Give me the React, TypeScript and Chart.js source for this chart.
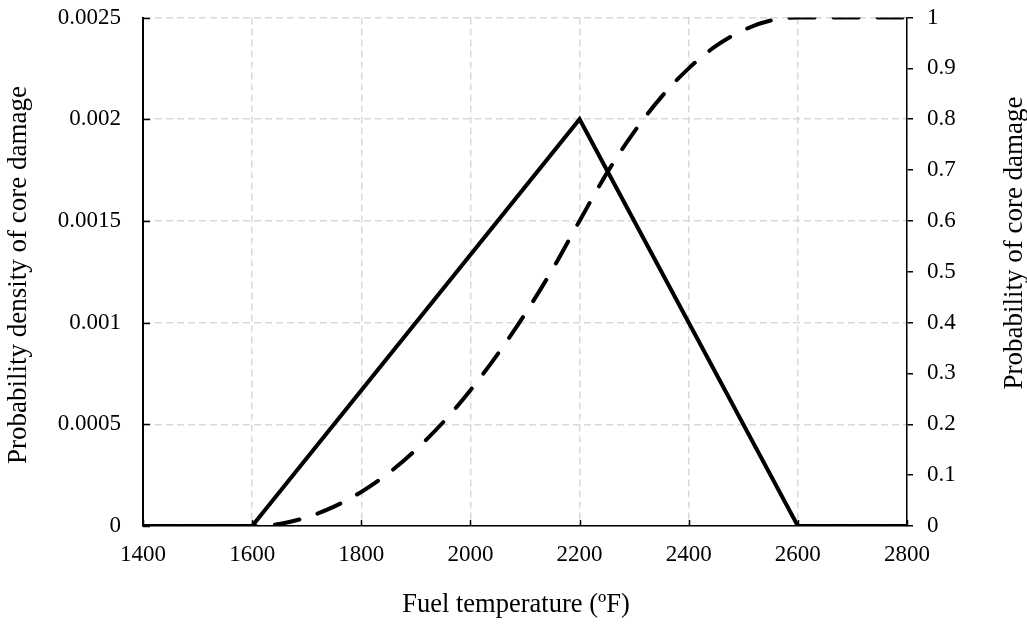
import React, { useEffect, useRef } from 'react';
import { Chart, registerables } from 'chart.js';

Chart.register(...registerables);

const xTickLabels = ['1400', '1600', '1800', '2000', '2200', '2400', '2600', '2800'];
const leftTickLabels = ['0', '0.0005', '0.001', '0.0015', '0.002', '0.0025'];
const rightTickLabels = ['0', '0.1', '0.2', '0.3', '0.4', '0.5', '0.6', '0.7', '0.8', '0.9', '1'];

const pdfTemps = [1400, 1600, 2200, 2600, 2800];
const pdfValues = [0, 0, 0.002, 0, 0];

const cdfTemps = [1400, 1600, 1650, 1700, 1750, 1800, 1850, 1900, 1950, 2000, 2050, 2100, 2150, 2200, 2250, 2300, 2350, 2400, 2450, 2500, 2550, 2600, 2800];
const cdfValues = [0, 0, 0.004, 0.017, 0.038, 0.067, 0.104, 0.15, 0.204, 0.267, 0.338, 0.417, 0.504, 0.6, 0.694, 0.775, 0.844, 0.9, 0.944, 0.975, 0.994, 1, 1];

const xTitle = 'Fuel temperature (ºF)';
const leftTitle = 'Probability density of core damage';
const rightTitle = 'Probability of core damage';

const FONT = "'Liberation Serif', 'Times New Roman', serif";
const TICK_SIZE = 23;

const decorPlugin = {
  id: 'decor',
  afterDraw(chart: any) {
    const ctx = chart.ctx;
    const area = chart.chartArea;
    const xs = chart.scales.x;
    const ys = chart.scales.y;
    ctx.save();
    ctx.strokeStyle = '#000';
    ctx.lineWidth = 1.5;
    ctx.beginPath();
    xs.ticks.forEach((_t: any, i: number) => {
      const px = Math.round(xs.getPixelForTick(i)) + 0.5;
      ctx.moveTo(px, area.bottom);
      ctx.lineTo(px, area.bottom - 6);
    });
    ys.ticks.forEach((_t: any, i: number) => {
      const py = Math.round(ys.getPixelForTick(i)) + 0.5;
      ctx.moveTo(area.left, py);
      ctx.lineTo(area.left + 7, py);
    });
    ctx.stroke();

    ctx.fillStyle = '#000';
    ctx.textAlign = 'center';
    ctx.textBaseline = 'middle';
    ctx.font = `26.5px ${FONT}`;
    ctx.fillText(xTitle, 516, 605);

    ctx.font = `27px ${FONT}`;
    ctx.save();
    ctx.translate(19, 275);
    ctx.rotate(-Math.PI / 2);
    ctx.fillText(leftTitle, 0, 0);
    ctx.restore();

    ctx.save();
    ctx.translate(1015, 243);
    ctx.rotate(-Math.PI / 2);
    ctx.fillText(rightTitle, 0, 0);
    ctx.restore();
    ctx.restore();
  },
};

export default function App() {
  const canvasRef = useRef<HTMLCanvasElement | null>(null);

  useEffect(() => {
    const canvas = canvasRef.current;
    if (!canvas) return;
    const pdfData = pdfTemps.map((t, i) => ({ x: t, y: pdfValues[i] }));
    const cdfData = cdfTemps.map((t, i) => ({ x: t, y: cdfValues[i] }));
    const tickFont = { family: FONT, size: TICK_SIZE };

    const chart = new Chart(canvas, {
      type: 'line',
      data: {
        datasets: [
          {
            label: 'PDF',
            data: pdfData,
            yAxisID: 'y',
            borderColor: '#000',
            borderWidth: 4,
            pointRadius: 0,
            fill: false,
            tension: 0,
          },
          {
            label: 'CDF',
            data: cdfData,
            yAxisID: 'y2',
            borderColor: '#000',
            borderWidth: 4,
            borderDash: [25, 19],
            borderCapStyle: 'round',
            pointRadius: 0,
            fill: false,
            cubicInterpolationMode: 'monotone',
          },
        ],
      },
      options: {
        animation: false,
        responsive: true,
        maintainAspectRatio: false,
        layout: { padding: { top: 17.5, left: 0, right: 0, bottom: 0 } },
        plugins: {
          legend: { display: false },
          tooltip: { enabled: false },
        },
        scales: {
          x: {
            type: 'linear',
            min: 1400,
            max: 2800,
            afterFit(scale: any) {
              scale.height = 100;
              scale.paddingLeft = 0;
              scale.paddingRight = 0;
            },
            ticks: {
              stepSize: 200,
              color: '#000',
              font: tickFont,
              padding: 15,
              maxRotation: 0,
              callback: (_v: any, i: number) => xTickLabels[i],
            },
            grid: {
              color: '#d9d9d9',
              lineWidth: 1.5,
              drawTicks: false,
            },
            border: { display: true, color: '#000', width: 1.5, dash: [7, 4] },
          },
          y: {
            type: 'linear',
            position: 'left',
            min: 0,
            max: 0.0025,
            afterFit(scale: any) {
              scale.width = 143;
              scale.paddingTop = 0;
              scale.paddingBottom = 0;
            },
            ticks: {
              stepSize: 0.0005,
              color: '#000',
              font: tickFont,
              padding: 22,
              callback: (_v: any, i: number) => leftTickLabels[i],
            },
            grid: {
              color: '#d9d9d9',
              lineWidth: 1.5,
              drawTicks: false,
            },
            border: { display: true, color: '#000', width: 2, dash: [7, 4] },
          },
          y2: {
            type: 'linear',
            position: 'right',
            min: 0,
            max: 1,
            afterFit(scale: any) {
              scale.width = 120;
              scale.paddingTop = 0;
              scale.paddingBottom = 0;
            },
            ticks: {
              stepSize: 0.1,
              color: '#000',
              font: tickFont,
              padding: 14,
              callback: (_v: any, i: number) => rightTickLabels[i],
            },
            grid: {
              drawOnChartArea: false,
              drawTicks: true,
              tickLength: 6,
              color: '#000',
              lineWidth: 1.5,
            },
            border: { display: true, color: '#000', width: 1.5 },
          },
        },
      },
      plugins: [decorPlugin],
    } as any);

    return () => {
      chart.destroy();
    };
  }, []);

  return (
    <div style={{ position: 'absolute', left: 0, top: 0, width: 1027, height: 626 }}>
      <canvas ref={canvasRef} />
    </div>
  );
}
